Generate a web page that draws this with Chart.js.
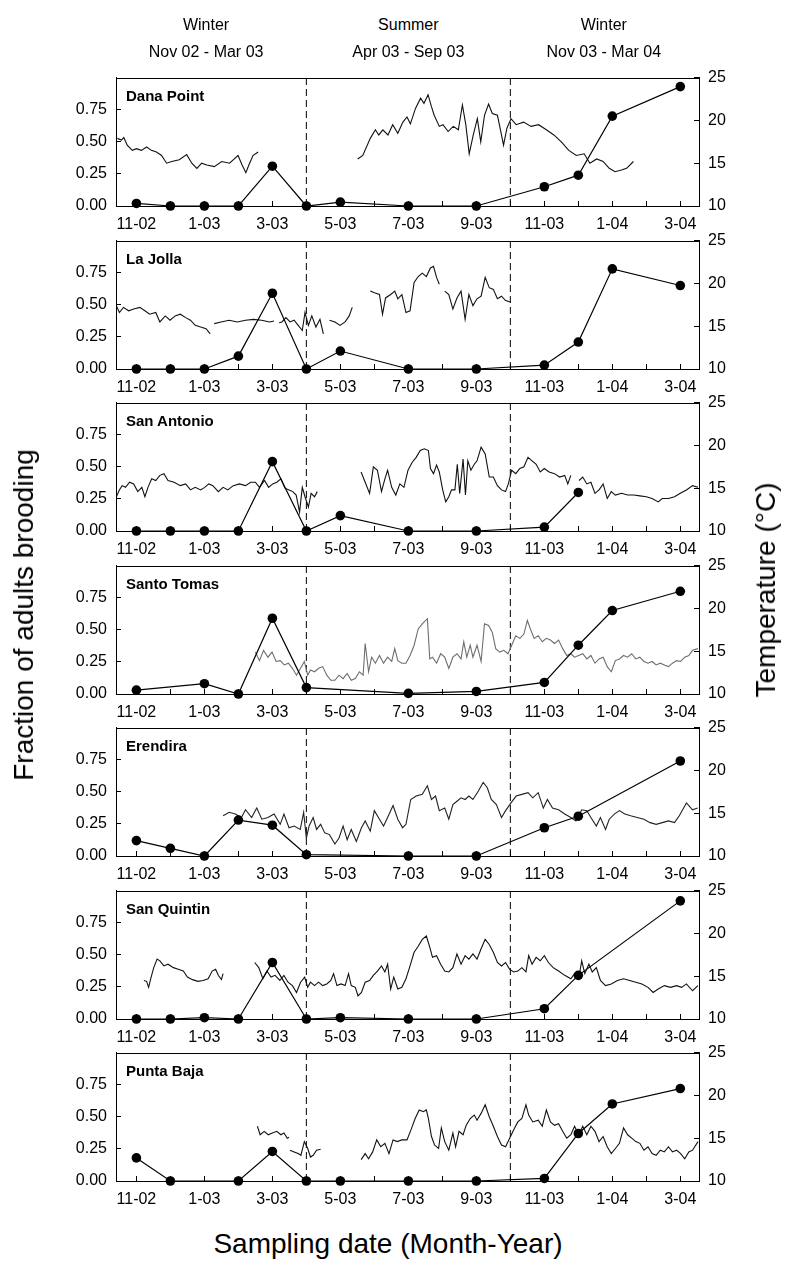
<!DOCTYPE html>
<html>
<head>
<meta charset="utf-8">
<script src="https://cdn.jsdelivr.net/npm/chart.js@4.4.1/dist/chart.umd.min.js"></script>
<style>
  html, body { margin: 0; padding: 0; background: #fff; }
  #wrap { position: relative; width: 789px; height: 1266px; background: #fff; overflow: hidden;
          font-family: 'Liberation Sans', Arial, sans-serif; color: #000; }
  #wrap canvas { position: absolute; left: 0; }
  .txt { position: absolute; white-space: nowrap; line-height: 1; }
  .hdr { font-size: 16px; transform: translateX(-50%); }
  .site { font-size: 15px; font-weight: bold; }
  .atitle { font-size: 28px; }
</style>
</head>
<body>
<div id="wrap"></div>
<script>
// ---------------- DATA ----------------
const monthLabels = ['11-02','12-02','1-03','2-03','3-03','4-03','5-03','6-03','7-03','8-03','9-03','10-03','11-03','12-03','1-04','2-04','3-04'];
const sites = ['Dana Point','La Jolla','San Antonio','Santo Tomas','Erendira','San Quintin','Punta Baja'];
const seasonBreaks = [5, 11];
const seasonNames = ['Winter','Summer','Winter'];
const seasonRanges = ['Nov 02 - Mar 03','Apr 03 - Sep 03','Nov 03 - Mar 04'];
const leftTicks = [0, 0.25, 0.5, 0.75];
const rightTicks = [10, 15, 20, 25];
const sampleMonths = [0, 1, 2, 3, 4, 5, 6, 8, 10, 12, 13, 14, 16];

const broodDana       = [0.02, 0, 0, 0, 0.31, 0, 0.03, 0, 0, 0.15, 0.24, 0.70, 0.93];
const broodLaJolla    = [0, 0, 0, 0.10, 0.59, 0, 0.14, 0, 0, 0.03, 0.21, 0.78, 0.65];
const broodSanAntonio = [0, 0, 0, 0, 0.54, 0, 0.12, 0, 0, 0.03, 0.30, null, null];
const broodSantoTomas = [0.03, null, 0.08, 0, 0.59, 0.05, null, 0.005, 0.02, 0.09, 0.38, 0.65, 0.80];
const broodErendira   = [0.12, 0.06, 0, 0.28, 0.24, 0.01, null, 0, 0, 0.22, 0.31, null, 0.74];
const broodSanQuintin = [0, 0, 0.01, 0, 0.44, 0, 0.01, 0, 0, 0.08, 0.34, null, 0.92];
const broodPuntaBaja  = [0.18, 0, null, 0, 0.23, 0, 0, 0, 0, 0.02, 0.37, 0.60, 0.72];

// temperature [month index, °C]; null = gap in record
const tempDana = [[-0.56,17.9],[-0.44,17.7],[-0.37,18.0],[-0.27,17.1],[-0.12,16.5],[0,16.7],[0.15,16.5],[0.30,16.9],[0.44,16.5],[0.59,16.3],[0.74,15.9],[0.89,15.0],[1.04,15.2],[1.26,15.4],[1.48,16.0],[1.63,15.0],[1.78,14.4],[1.92,15.0],[2.07,14.8],[2.29,14.6],[2.51,15.2],[2.74,15.0],[2.88,15.5],[2.99,15.9],[3.11,14.8],[3.22,13.9],[3.33,15.0],[3.43,15.9],[3.58,16.3],[3.7,null],
 [6.51,15.5],[6.66,15.9],[6.88,17.9],[7.03,18.9],[7.13,18.3],[7.25,18.9],[7.40,18.3],[7.54,19.5],[7.69,18.5],[7.84,19.8],[7.96,20.4],[8.06,19.6],[8.21,21.4],[8.36,22.6],[8.46,22.0],[8.58,23.0],[8.68,21.6],[8.76,20.6],[8.91,19.3],[9.02,19.5],[9.17,18.7],[9.32,19.3],[9.47,18.9],[9.59,21.8],[9.69,19.5],[9.79,16.1],[9.91,18.3],[10.03,20.2],[10.13,17.5],[10.24,20.6],[10.36,21.9],[10.47,20.8],[10.62,20.6],[10.72,18.7],[10.80,17.1],[10.90,19.1],[11.02,20.2],[11.17,19.5],[11.39,19.8],[11.61,19.3],[11.83,19.5],[12.06,18.9],[12.28,18.3],[12.50,17.5],[12.72,16.5],[12.94,15.9],[13.17,16.1],[13.34,15.0],[13.54,15.5],[13.73,15.2],[13.91,14.4],[14.08,14.0],[14.27,14.2],[14.42,14.4],[14.62,15.2]];
const tempLaJolla = [[-0.59,17.4],[-0.50,16.6],[-0.38,17.2],[-0.23,16.8],[-0.08,17.0],[0.10,17.2],[0.25,16.8],[0.39,16.4],[0.57,16.6],[0.69,15.5],[0.85,16.2],[0.99,15.7],[1.14,16.2],[1.29,16.4],[1.45,16.0],[1.59,15.7],[1.73,15.1],[1.89,14.9],[2.05,14.7],[2.17,14.1],[2.22,null],
 [2.29,15.3],[2.49,15.5],[2.73,15.7],[2.97,15.5],[3.21,15.7],[3.45,15.8],[3.68,15.7],[3.92,15.5],[4.05,15.6],[4.12,null],
 [4.20,15.4],[4.28,15.5],[4.40,16.0],[4.52,15.5],[4.64,15.7],[4.76,15.1],[4.88,14.5],[4.96,16.6],[5.06,15.1],[5.16,16.2],[5.28,14.9],[5.40,15.8],[5.50,14.1],[5.58,null],
 [5.68,15.7],[5.84,15.5],[5.99,15.1],[6.14,15.5],[6.26,16.2],[6.35,17.2],[6.5,null],
 [6.88,19.1],[7.00,18.9],[7.15,18.7],[7.24,16.4],[7.33,18.3],[7.48,18.7],[7.60,19.1],[7.69,18.2],[7.81,18.7],[7.93,16.6],[8.05,16.8],[8.17,20.1],[8.29,20.8],[8.41,21.2],[8.53,20.8],[8.65,21.8],[8.74,22.0],[8.83,20.7],[8.91,19.9],[8.98,null],
 [9.07,19.1],[9.19,18.7],[9.31,17.0],[9.43,18.3],[9.55,19.1],[9.67,15.8],[9.78,18.7],[9.90,17.4],[10.02,18.2],[10.14,18.5],[10.26,20.7],[10.38,19.5],[10.50,19.3],[10.62,18.2],[10.74,18.5],[10.86,18.0],[11.02,17.8]];
const tempSanAntonio = [[-0.59,14.0],[-0.50,14.8],[-0.42,15.3],[-0.32,15.1],[-0.20,15.7],[-0.08,15.5],[0.04,14.6],[0.16,15.1],[0.25,14.0],[0.34,15.1],[0.45,16.1],[0.57,15.9],[0.69,16.5],[0.81,16.7],[0.93,15.9],[1.11,15.7],[1.29,15.3],[1.45,15.5],[1.59,14.8],[1.73,15.1],[1.89,14.8],[2.01,15.1],[2.13,15.5],[2.25,15.3],[2.41,14.6],[2.55,15.1],[2.69,14.8],[2.85,15.3],[3.03,15.5],[3.21,15.3],[3.36,15.7],[3.50,15.7],[3.62,15.1],[3.77,15.9],[3.89,15.1],[4.01,15.5],[4.13,15.7],[4.25,16.1],[4.37,15.0],[4.49,14.8],[4.60,14.6],[4.70,14.2],[4.80,12.2],[4.88,15.1],[4.96,14.0],[5.06,12.8],[5.14,14.4],[5.24,14.0],[5.32,14.6],[5.4,null],
 [6.61,16.9],[6.73,15.7],[6.86,14.4],[6.97,17.5],[7.09,17.1],[7.21,14.6],[7.31,16.1],[7.39,17.1],[7.51,15.1],[7.63,14.2],[7.75,15.5],[7.87,15.1],[7.99,17.1],[8.11,18.0],[8.23,18.6],[8.35,19.4],[8.47,19.6],[8.59,19.4],[8.65,17.3],[8.74,16.7],[8.83,17.7],[8.91,16.9],[9.01,14.8],[9.10,13.4],[9.19,14.0],[9.27,14.8],[9.37,14.8],[9.44,17.8],[9.51,14.4],[9.61,18.4],[9.68,14.2],[9.75,18.2],[9.84,17.1],[9.94,17.8],[10.02,18.2],[10.14,19.8],[10.26,19.0],[10.38,16.3],[10.50,16.3],[10.62,15.3],[10.74,14.8],[10.86,14.6],[10.94,15.5],[11.04,17.1],[11.16,16.7],[11.28,17.3],[11.40,17.5],[11.52,18.6],[11.64,18.2],[11.76,17.8],[11.88,16.9],[12.00,17.3],[12.14,16.9],[12.30,16.7],[12.45,16.3],[12.60,16.5],[12.69,15.5],[12.78,16.5],[12.9,null],
 [13.02,15.9],[13.13,16.3],[13.25,15.5],[13.37,15.7],[13.49,14.4],[13.61,14.8],[13.73,15.5],[13.85,13.8],[13.97,14.6],[14.09,14.2],[14.27,14.4],[14.45,14.2],[14.63,14.2],[14.81,14.1],[15.00,14.0],[15.17,13.8],[15.35,13.4],[15.47,13.8],[15.65,13.8],[15.83,14.0],[16.00,14.4],[16.18,14.8],[16.36,15.3],[16.52,15.1]];
const tempSantoTomas = [[3.50,14.9],[3.62,13.9],[3.74,15.1],[3.87,14.3],[3.99,14.9],[4.11,13.8],[4.23,13.9],[4.35,13.4],[4.47,13.6],[4.59,13.0],[4.71,12.2],[4.83,13.0],[4.94,13.8],[5.04,12.2],[5.12,12.8],[5.24,12.6],[5.36,13.0],[5.48,13.2],[5.60,12.2],[5.72,11.6],[5.84,11.6],[5.96,12.2],[6.08,11.8],[6.20,12.4],[6.32,11.6],[6.44,11.8],[6.56,12.6],[6.67,12.2],[6.73,15.9],[6.83,12.6],[6.92,14.3],[7.03,13.6],[7.15,14.5],[7.27,13.6],[7.39,14.3],[7.51,13.8],[7.60,15.3],[7.69,13.9],[7.81,13.6],[7.93,13.6],[8.05,14.5],[8.17,15.7],[8.29,17.6],[8.41,18.2],[8.56,18.8],[8.63,14.1],[8.71,14.3],[8.83,13.6],[8.95,14.7],[9.07,14.3],[9.19,13.0],[9.31,14.3],[9.43,14.7],[9.55,14.1],[9.63,16.1],[9.72,14.3],[9.82,15.7],[9.90,14.3],[10.02,15.7],[10.14,13.8],[10.24,18.2],[10.36,18.0],[10.47,17.2],[10.57,15.3],[10.69,14.9],[10.81,15.1],[10.93,14.7],[11.04,15.7],[11.16,16.8],[11.28,16.5],[11.40,17.0],[11.50,18.6],[11.59,17.6],[11.70,16.5],[11.82,16.8],[11.94,16.1],[12.06,16.5],[12.18,16.3],[12.30,15.9],[12.42,16.3],[12.54,15.3],[12.66,14.5],[12.78,14.7],[12.89,14.3],[13.01,14.5],[13.13,14.7],[13.25,14.1],[13.37,14.5],[13.49,13.6],[13.61,14.1],[13.73,14.3],[13.85,13.2],[13.97,12.6],[14.09,13.9],[14.21,14.1],[14.33,14.5],[14.45,14.3],[14.57,14.7],[14.69,14.1],[14.81,14.3],[14.93,13.8],[15.05,13.6],[15.17,13.8],[15.29,13.4],[15.41,13.6],[15.53,13.4],[15.65,13.2],[15.77,13.6],[15.89,13.9],[16.01,13.8],[16.13,14.3],[16.25,14.5],[16.36,15.1],[16.52,15.3]];
const tempErendira = [[2.55,14.7],[2.73,15.1],[2.91,14.9],[3.09,14.5],[3.21,15.4],[3.39,14.5],[3.54,15.6],[3.69,14.3],[3.87,14.5],[4.05,14.9],[4.23,13.7],[4.34,14.9],[4.49,13.3],[4.64,13.5],[4.82,13.1],[4.92,15.1],[5.00,12.1],[5.08,13.5],[5.20,14.5],[5.30,13.1],[5.42,13.7],[5.54,12.7],[5.68,12.5],[5.84,11.4],[5.96,12.1],[6.08,13.5],[6.20,11.9],[6.32,13.1],[6.47,11.7],[6.62,13.3],[6.73,14.1],[6.88,12.9],[7.00,15.3],[7.15,14.3],[7.27,13.5],[7.39,14.5],[7.55,15.9],[7.69,14.3],[7.83,13.3],[7.93,13.7],[8.07,16.6],[8.23,17.0],[8.41,17.2],[8.56,18.2],[8.68,16.6],[8.80,17.0],[8.91,15.3],[9.07,15.6],[9.19,14.3],[9.31,16.0],[9.43,16.4],[9.55,16.8],[9.67,16.6],[9.78,17.0],[9.90,16.6],[10.06,17.6],[10.20,18.6],[10.32,18.0],[10.44,16.6],[10.59,16.0],[10.74,14.5],[10.86,15.3],[11.02,16.2],[11.17,17.0],[11.34,17.2],[11.52,17.4],[11.66,16.8],[11.82,17.4],[11.97,15.6],[12.09,16.6],[12.24,15.6],[12.42,15.4],[12.60,14.9],[12.78,14.5],[12.93,14.1],[13.10,15.4],[13.25,15.3],[13.37,14.5],[13.53,13.5],[13.65,14.5],[13.80,13.1],[13.91,14.3],[14.06,14.9],[14.21,15.3],[14.37,14.9],[14.54,14.7],[14.73,14.5],[14.93,14.3],[15.11,13.9],[15.29,13.7],[15.47,13.9],[15.65,14.1],[15.83,13.9],[15.97,14.7],[16.18,16.2],[16.36,15.4],[16.51,15.6]];
const tempSanQuintin = [[0.22,14.5],[0.30,14.4],[0.36,13.7],[0.42,14.7],[0.51,16.0],[0.61,17.0],[0.69,16.8],[0.81,16.2],[0.93,16.4],[1.09,16.0],[1.23,15.8],[1.38,15.6],[1.50,14.9],[1.65,14.6],[1.81,14.4],[1.96,14.5],[2.11,14.7],[2.23,15.6],[2.33,15.8],[2.41,15.1],[2.50,14.6],[2.55,15.3],[2.7,null],
 [3.48,16.6],[3.60,16.0],[3.72,14.7],[3.84,15.6],[3.96,14.9],[4.08,15.1],[4.22,14.5],[4.34,15.1],[4.46,14.3],[4.59,13.9],[4.71,13.1],[4.83,14.3],[4.95,14.9],[5.04,13.7],[5.12,14.3],[5.24,13.9],[5.36,14.3],[5.48,13.9],[5.60,14.1],[5.72,14.5],[5.80,15.3],[5.90,13.9],[6.02,14.1],[6.14,13.9],[6.24,15.3],[6.32,13.9],[6.44,13.7],[6.52,12.7],[6.62,13.1],[6.73,14.3],[6.86,14.5],[6.97,15.1],[7.09,15.6],[7.21,16.2],[7.31,15.5],[7.39,16.4],[7.48,13.5],[7.57,14.9],[7.69,13.5],[7.81,13.7],[7.93,14.7],[8.05,16.2],[8.17,17.8],[8.29,18.5],[8.41,19.3],[8.53,19.7],[8.63,18.4],[8.71,17.2],[8.83,17.4],[8.95,16.4],[9.07,15.6],[9.19,15.5],[9.31,16.0],[9.43,17.6],[9.55,16.4],[9.67,17.4],[9.78,17.0],[9.90,17.6],[10.02,17.0],[10.14,18.2],[10.26,19.3],[10.38,18.7],[10.50,17.8],[10.62,16.6],[10.74,16.2],[10.86,16.6],[10.98,15.8],[11.10,15.5],[11.22,15.6],[11.34,16.0],[11.46,15.5],[11.54,17.4],[11.64,16.4],[11.76,17.2],[11.88,16.8],[12.00,17.4],[12.12,16.6],[12.26,16.0],[12.42,15.6],[12.60,15.1],[12.78,14.7],[12.89,15.3],[13.01,14.7],[13.10,16.8],[13.19,15.3],[13.31,16.4],[13.41,15.5],[13.53,16.0],[13.65,14.5],[13.80,13.9],[13.97,14.1],[14.15,14.5],[14.33,14.7],[14.51,14.5],[14.69,14.3],[14.87,14.1],[15.05,13.7],[15.20,13.1],[15.35,13.5],[15.53,13.9],[15.71,13.7],[15.89,13.9],[16.04,13.7],[16.18,14.1],[16.36,13.3],[16.52,13.9]];
const tempPuntaBaja = [[3.56,16.4],[3.64,15.4],[3.76,15.8],[3.88,15.4],[4.00,15.6],[4.13,15.8],[4.25,15.4],[4.34,15.6],[4.44,15.0],[4.49,15.1],[4.505,null],
 [4.52,13.6],[4.64,13.4],[4.76,13.2],[4.84,13.0],[4.94,14.6],[5.04,13.8],[5.12,12.8],[5.20,13.0],[5.30,13.6],[5.42,13.7],[5.5,null],
 [6.61,12.5],[6.73,13.2],[6.83,12.6],[6.95,13.4],[7.07,14.8],[7.19,14.0],[7.31,14.4],[7.43,13.2],[7.55,14.8],[7.67,14.6],[7.81,14.8],[7.96,14.8],[8.08,16.0],[8.20,17.3],[8.32,18.3],[8.44,18.1],[8.53,18.3],[8.59,17.3],[8.68,15.2],[8.77,14.2],[8.89,13.8],[8.97,16.2],[9.07,14.6],[9.19,13.6],[9.31,15.6],[9.39,14.0],[9.49,15.8],[9.61,15.4],[9.70,16.5],[9.82,17.3],[9.94,17.7],[10.02,17.1],[10.14,17.9],[10.26,18.9],[10.38,17.5],[10.50,16.4],[10.62,15.2],[10.74,14.2],[10.86,14.0],[10.98,15.0],[11.10,16.0],[11.22,16.9],[11.34,17.3],[11.46,18.9],[11.54,17.7],[11.66,16.9],[11.82,17.1],[11.94,16.4],[12.06,18.3],[12.18,16.9],[12.30,16.5],[12.42,16.7],[12.54,15.8],[12.66,15.0],[12.78,15.4],[12.89,16.4],[13.01,15.4],[13.13,16.4],[13.25,15.4],[13.37,16.4],[13.49,15.8],[13.61,14.6],[13.73,15.2],[13.85,14.0],[13.97,13.2],[14.09,13.8],[14.21,14.4],[14.33,16.2],[14.45,15.4],[14.57,15.0],[14.69,14.6],[14.81,14.4],[14.93,13.6],[15.05,14.0],[15.17,13.2],[15.29,13.0],[15.41,13.6],[15.53,13.4],[15.65,14.0],[15.77,13.4],[15.89,13.6],[16.01,13.2],[16.13,12.6],[16.25,13.4],[16.36,13.6],[16.52,14.6]];

const broodSeries = [broodDana, broodLaJolla, broodSanAntonio, broodSantoTomas, broodErendira, broodSanQuintin, broodPuntaBaja];
const tempSeries = [tempDana, tempLaJolla, tempSanAntonio, tempSantoTomas, tempErendira, tempSanQuintin, tempPuntaBaja];
const tempColors = ['#111', '#111', '#111', '#6e6e6e', '#222', '#111', '#111'];

// ---------------- LAYOUT ----------------
const W = 789;
const X_MIN = -0.6, X_MAX = 16.55;
const PANEL_TOP0 = 78, PANEL_PITCH = 162.5, PLOT_H = 128, PAD_TOP = 12, XAXIS_H = 28;
const PLOT_LEFT = 116, PLOT_RIGHT = 699;
const headerCenters = [2.05, 8.0, 13.75];
const FONT = { family: "'Liberation Sans', Arial, sans-serif", size: 16 };
const wrap = document.getElementById('wrap');

function addText(cls, text, left, top, extraStyle) {
  const d = document.createElement('div');
  d.className = 'txt ' + cls;
  d.textContent = text;
  d.style.left = left + 'px';
  d.style.top = top + 'px';
  if (extraStyle) Object.assign(d.style, extraStyle);
  wrap.appendChild(d);
  return d;
}

// frame around the plotting area (styling only)
const framePlugin = {
  id: 'frame',
  afterDraw(chart) {
    const { ctx, chartArea: a } = chart;
    ctx.save();
    ctx.strokeStyle = '#000';
    ctx.lineWidth = 1;
    ctx.strokeRect(Math.round(a.left) + 0.5, Math.round(a.top) + 0.5,
                   Math.round(a.right - a.left), Math.round(a.bottom - a.top));
    ctx.restore();
  }
};

function buildChart(cv, i) {
  const datasets = [
    {
      data: sampleMonths.map((m, k) => ({ x: m, y: broodSeries[i][k] })),
      yAxisID: 'y', borderColor: '#000', borderWidth: 1.2,
      pointRadius: 4.8, pointBackgroundColor: '#000', pointBorderColor: '#000', pointBorderWidth: 0,
      spanGaps: true, clip: false, order: 0
    },
    {
      data: tempSeries[i].map(p => ({ x: p[0], y: p[1] })),
      yAxisID: 'y1', borderColor: tempColors[i], borderWidth: 1.1,
      pointRadius: 0, spanGaps: false, tension: 0, order: 1
    }
  ];
  seasonBreaks.forEach(b => datasets.push({
    data: [{ x: b, y: 0 }, { x: b, y: 1 }],
    yAxisID: 'y', borderColor: '#000', borderWidth: 1, borderDash: [7, 4],
    pointRadius: 0, order: 2
  }));

  return new Chart(cv.getContext('2d'), {
    type: 'line',
    data: { datasets },
    plugins: [framePlugin],
    options: {
      responsive: false, maintainAspectRatio: false, animation: false, events: [],
      layout: { padding: { top: PAD_TOP, left: 0, right: 0, bottom: 0 } },
      plugins: { legend: { display: false }, tooltip: { enabled: false } },
      scales: {
        x: {
          type: 'linear', position: 'bottom', min: X_MIN, max: X_MAX,
          afterBuildTicks: s => { s.ticks = monthLabels.map((_, k) => ({ value: k })); },
          afterFit: s => { s.height = XAXIS_H; },
          ticks: { autoSkip: false, maxRotation: 0, color: '#000', font: FONT, padding: 14,
                   callback: v => (v % 2 === 0 ? monthLabels[v] : '') },
          grid: { drawOnChartArea: false, tickLength: -5, color: '#000', lineWidth: 1 },
          border: { color: '#000', width: 1 }
        },
        y: {
          type: 'linear', position: 'left', min: 0, max: 1,
          afterBuildTicks: s => { s.ticks = leftTicks.map(v => ({ value: v })); },
          afterFit: s => { s.width = PLOT_LEFT; },
          ticks: { color: '#000', font: FONT, padding: 14, callback: v => v.toFixed(2) },
          grid: { drawOnChartArea: false, tickLength: -5, color: '#000', lineWidth: 1 },
          border: { color: '#000', width: 1 }
        },
        y1: {
          type: 'linear', position: 'right', min: 10, max: 25,
          afterBuildTicks: s => { s.ticks = rightTicks.map(v => ({ value: v })); },
          afterFit: s => { s.width = W - PLOT_RIGHT; },
          ticks: { color: '#000', font: FONT, padding: 14 },
          grid: { drawOnChartArea: false, tickLength: -5, color: '#000', lineWidth: 1 },
          border: { color: '#000', width: 1 }
        }
      }
    }
  });
}

const charts = [];
sites.forEach((site, i) => {
  const boxTop = PANEL_TOP0 + PANEL_PITCH * i;
  const cv = document.createElement('canvas');
  cv.width = W; cv.height = PAD_TOP + PLOT_H + XAXIS_H;
  wrap.appendChild(cv);
  let ch = buildChart(cv, i);
  const h = ch.chartArea.bottom - ch.chartArea.top;
  if (Math.abs(h - PLOT_H) > 0.5) {
    const newH = Math.round(cv.height + (PLOT_H - h));
    ch.destroy();
    cv.width = W; cv.height = newH;
    ch = buildChart(cv, i);
  }
  cv.style.top = (boxTop - ch.chartArea.top) + 'px';
  charts.push(ch);
  addText('site', site, ch.chartArea.left + 10, boxTop + 10);
});

// season headers
const xs = charts[0].scales.x;
seasonNames.forEach((name, k) => {
  const cx = xs.getPixelForValue(headerCenters[k]);
  addText('hdr', name, cx, 17);
  addText('hdr', seasonRanges[k], cx, 44);
});

// axis titles
const plotBottom = PANEL_TOP0 + PANEL_PITCH * 6 + PLOT_H;
addText('atitle', 'Sampling date (Month-Year)', 388, plotBottom + 49, { transform: 'translateX(-50%)' });
addText('atitle', 'Fraction of adults brooding', 24, 615,
        { transform: 'translate(-50%, -50%) rotate(-90deg)' });
addText('atitle', 'Temperature (\u00B0C)', 766, 590,
        { transform: 'translate(-50%, -50%) rotate(-90deg)' });
</script>
</body>
</html>
